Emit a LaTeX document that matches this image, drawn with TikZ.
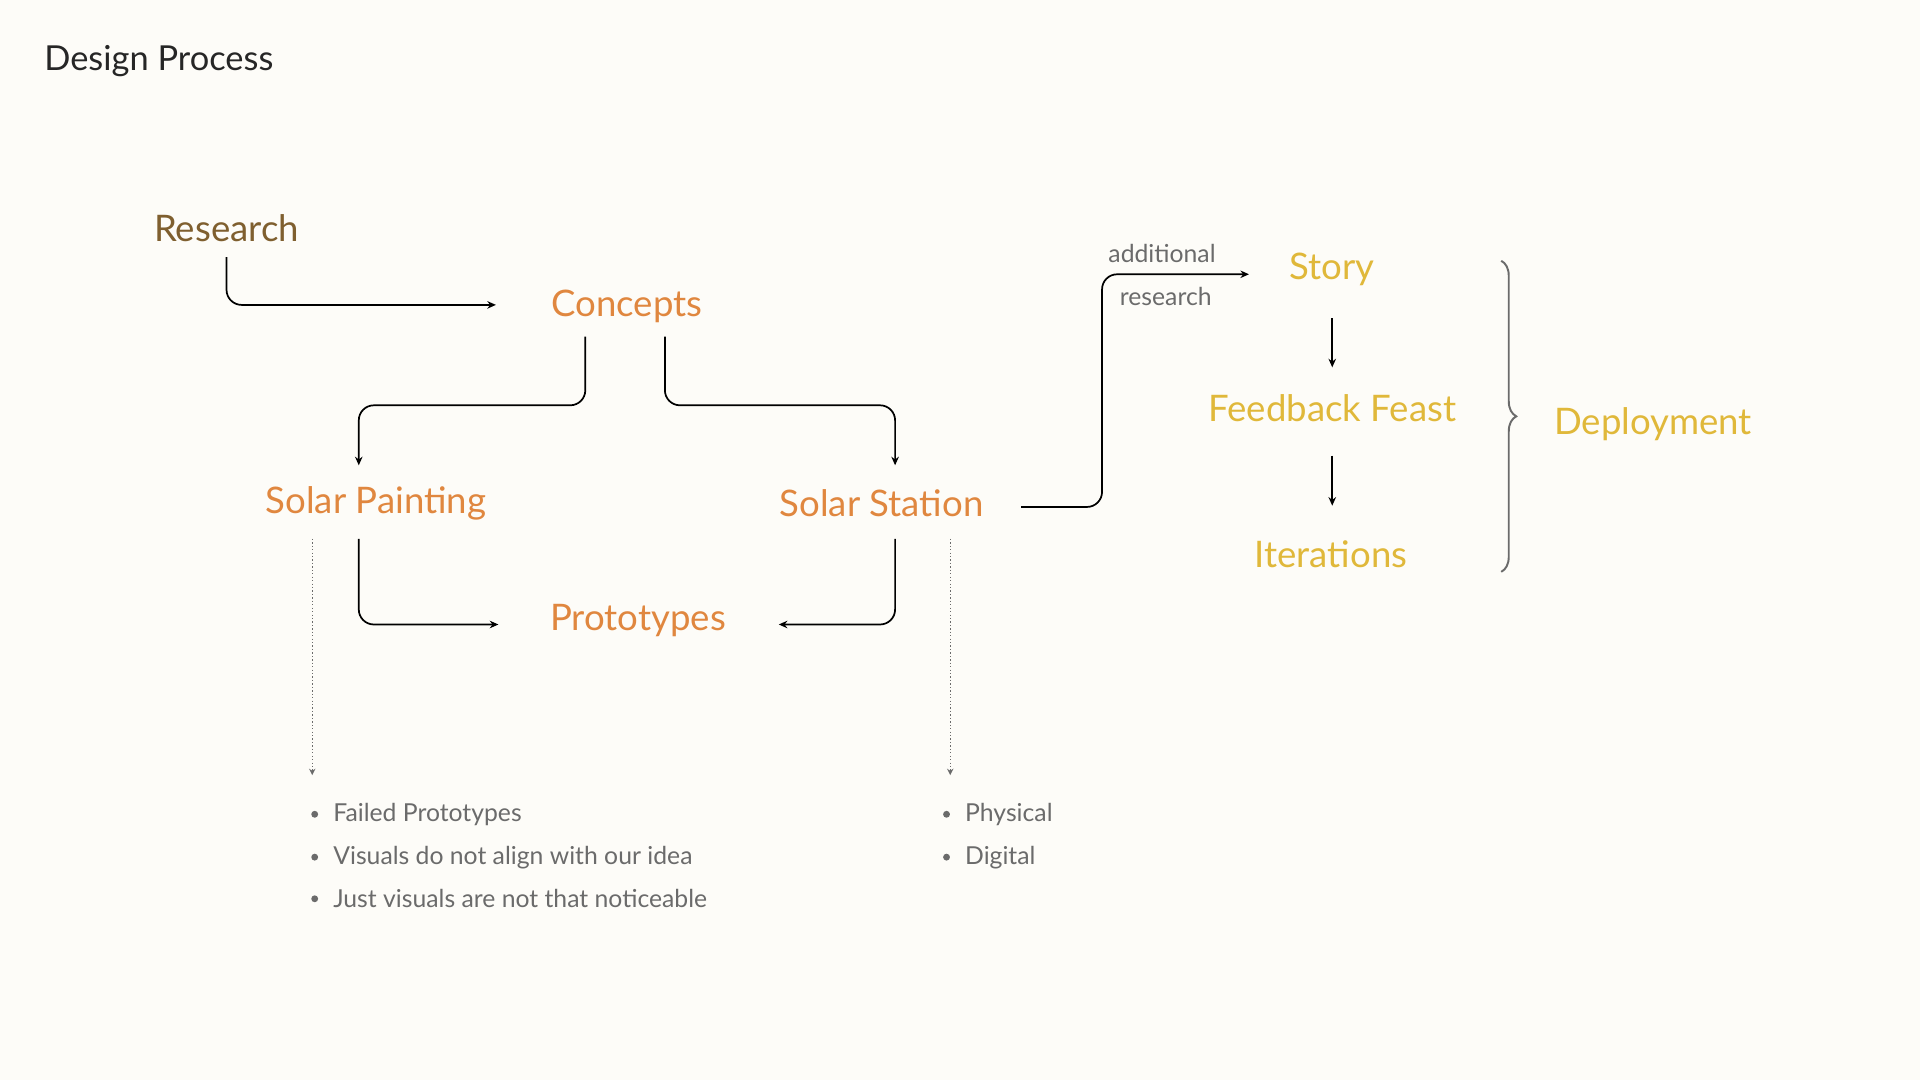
\documentclass[tikz,border=0pt]{standalone}
\usepackage{fontspec}
\setmainfont{Lato}
\usetikzlibrary{arrows.meta,decorations.pathreplacing}
\definecolor{bg}{HTML}{FDFCF8}
\definecolor{brn}{HTML}{7F5F2F}
\definecolor{org}{HTML}{E0873F}
\definecolor{yel}{HTML}{E0B83A}
\definecolor{gry}{HTML}{6B6B6B}
\begin{document}
\begin{tikzpicture}[x=0.02cm,y=-0.02cm,
  lbl/.style={font=\fontsize{17}{20}\selectfont},
  con/.style={draw=black,line width=0.8pt,rounded corners=7,-{Stealth[length=4pt,width=3.5pt]}},
  dot/.style={draw=gry,densely dotted,line width=0.6pt,-{Stealth[length=3pt,width=3pt]}},
  bul/.style={anchor=west,text=gry,font=\fontsize{11.5}{14}\selectfont},
  sm/.style={text=gry,font=\fontsize{11.5}{14}\selectfont}]
\fill[bg] (0,0) rectangle (1568,882);
\useasboundingbox (0,0) rectangle (1568,882);
\node[anchor=west,text=black!85,font=\fontsize{16}{19}\selectfont] (title) at (30,50) {Design Process};
\node[lbl,text=brn] (res) at (185,186) {Research};
\node[lbl,text=org] (con) at (512,250) {Concepts};
\node[lbl,text=org] (sp) at (307,411) {Solar Painting};
\node[lbl,text=org] (ss) at (720,411) {Solar Station};
\node[lbl,text=org] (pro) at (521,507) {Prototypes};
\node[lbl,text=yel] (sto) at (1088,220) {Story};
\node[lbl,text=yel] (ff) at (1088,333) {Feedback Feast};
\node[lbl,text=yel] (it) at (1087,453) {Iterations};
\node[lbl,text=yel] (dep) at (1350,346) {Deployment};
\node[sm] (add) at (949,207) {additional};
\node[sm] (rsc) at (952,242) {research};
\coordinate (a1) at (185,210); \coordinate (a2) at (405,249);
\draw[con] (a1) |- (a2);
\coordinate (b1) at (478,275); \coordinate (b2) at (293,380);
\draw[con] (b1) -- (478,331) -- (293,331) -- (b2);
\coordinate (c1) at (543,275); \coordinate (c2) at (731,380);
\draw[con] (c1) -- (543,331) -- (731,331) -- (c2);
\coordinate (d1) at (293,440); \coordinate (d2) at (407,510);
\draw[con] (d1) |- (d2);
\coordinate (e1) at (731,440); \coordinate (e2) at (636,510);
\draw[con] (e1) |- (e2);
\coordinate (f1) at (834,414); \coordinate (f2) at (1020,224);
\draw[con] (f1) -- (900,414) -- (900,224) -- (f2);
\draw[con] (1088,260) coordinate (g1) -- (1088,300) coordinate (g2);
\draw[con] (1088,372) coordinate (h1) -- (1088,413) coordinate (h2);
\draw[dot] (255,440) coordinate (i1) -- (255,633) coordinate (i2);
\draw[dot] (776,440) coordinate (j1) -- (776,633) coordinate (j2);
\draw[gry,line width=0.9pt,decorate,decoration={brace,amplitude=7pt}] (1226,213) coordinate (k1) -- (1226,467) coordinate (k2);
\foreach \y/\t [count=\i] in {665/Failed Prototypes,700/Visuals do not align with our idea,734/Just visuals are not that noticeable}{
  \fill[gry] (257,\y) circle (1.6pt);
  \node[bul] (l\i) at (266,\y) {\t};}
\foreach \y/\t [count=\i] in {665/Physical,700/Digital}{
  \fill[gry] (773,\y) circle (1.6pt);
  \node[bul] (r\i) at (782,\y) {\t};}
\end{tikzpicture}
\end{document}
